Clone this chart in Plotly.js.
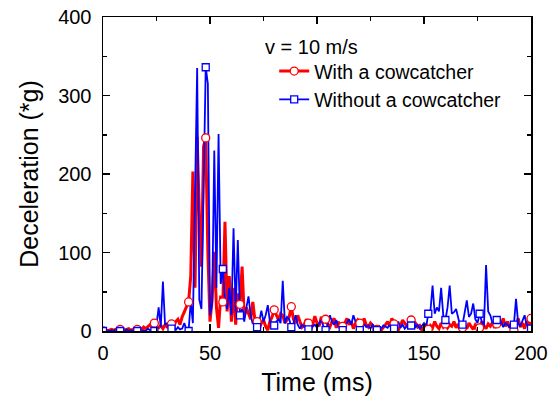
<!DOCTYPE html>
<html><head><meta charset="utf-8">
<script src="https://cdn.plot.ly/plotly-3.0.1.min.js"></script>
<style>html,body{margin:0;padding:0;background:#fff}</style>
</head><body><div id="chart" style="width:549px;height:400px"></div>
<script>
// Time axis (ms), sampled every 1 ms from 0 to 200
const timeMs = Array.from({length: 201}, (_, i) => i);

// Deceleration (*g) with a cowcatcher, t = 0..200 ms
const withCowcatcher = [
0,1,0,1,2,1,2,1,2,3, 1,2,3,1,2,3,2,4,2,5,
3,6,8,5,10,6,4,7,3,8, 5,6,9,5,12,15,8,18,25,30,
37,70,203,55,247,150,82,235,246,100, 12,40,101,30,4,45,37,139,25,70,
12,55,8,48,34,82,18,30,22,15, 37,14,12,3,10,14,6,1,12,18,
27,20,14,22,20,10,14,18,31,15, 10,20,12,5,8,15,10,1,8,19,
10,6,18,12,15,8,5,12,16,4, 12,2,6,10,16,8,12,3,10,14,
10,6,16,8,5,10,7,3,2,5, 1,4,8,12,6,16,9,4,1,8,
14,10,6,12,14,8,10,5,7,1, 5,8,2,7,4,12,6,3,10,5,
9,4,8,6,12,4,9,1,4,8, 3,10,6,2,8,5,4,12,7,3,
9,6,11,4,9,14,8,16,6,12, 4,10,1,8,16,5,10,3,12,6,
16
];

// Deceleration (*g) without a cowcatcher, t = 0..200 ms
const withoutCowcatcher = [
0,0,1,0,1,0,2,0,0,1, 0,2,0,1,0,1,0,2,0,1,
0,3,1,2,0,8,30,5,63,8, 10,10,3,8,1,5,2,3,10,2,
0,38,10,170,335,40,28,180,336,315, 20,35,230,55,251,60,79,40,28,55,
20,131,25,116,20,28,12,30,44,20, 9,15,5,12,26,12,20,33,12,8,
7,12,15,10,64,10,18,15,5,10, 20,8,3,8,5,10,2,12,6,8,
4,10,14,6,1,8,20,12,8,14, 5,10,1,6,10,15,8,20,12,5,
1,3,9,5,7,3,8,4,1,6, 3,7,5,4,8,2,3,6,12,4,
8,3,6,10,7,12,5,8,3,6, 10,5,22,25,58,22,30,25,55,20,
14,30,58,22,24,28,15,5,8,25, 39,18,22,35,15,10,22,12,5,84,
25,20,10,12,14,8,12,5,10,8, 5,12,8,41,10,6,12,20,8,5,
3
];

const markerEvery = 8;
const seriesNames = ['With a cowcatcher', 'Without a cowcatcher'];
const legendTitle = 'v = 10 m/s';
const xTitle = 'Time (ms)';
const yTitle = 'Deceleration (*g)';

const red = '#ff0000', blue = '#0000ff';
const font = 'Liberation Sans, Arial, sans-serif';

function pick(arr){ return arr.filter((_, i) => i % markerEvery === 0); }

const specs = [
  {y: withCowcatcher, name: seriesNames[0], color: red, width: 3, symbol: 'circle', size: 8},
  {y: withoutCowcatcher, name: seriesNames[1], color: blue, width: 1.8, symbol: 'square', size: 7}
];

const traces = [];
specs.forEach((s, k) => {
  traces.push({x: timeMs, y: s.y, mode: 'lines', type: 'scatter', line: {color: s.color, width: s.width},
    showlegend: false, legendgroup: 'g'+k, hoverinfo: 'skip'});
});
specs.forEach((s, k) => {
  traces.push({x: pick(timeMs), y: pick(s.y), mode: 'markers', type: 'scatter',
    marker: {symbol: s.symbol, size: s.size, color: '#ffffff', line: {color: s.color, width: 1.3}},
    showlegend: false, legendgroup: 'g'+k, hoverinfo: 'skip'});
});
specs.forEach((s, k) => {
  traces.push({x: [null], y: [null], mode: 'lines+markers', type: 'scatter', name: s.name,
    line: {color: s.color, width: s.width},
    marker: {symbol: s.symbol, size: s.size, color: '#ffffff', line: {color: s.color, width: 1.3}},
    legendgroup: 'g'+k});
});

const axisCommon = {
  showgrid: false, zeroline: false, showline: true, linecolor: '#000', linewidth: 1.5,
  mirror: 'ticks', ticks: 'inside', ticklen: 7, tickwidth: 1.5, tickcolor: '#000',
  tickfont: {family: font, size: 20, color: '#000'}
};

const layout = {
  width: 549, height: 400,
  margin: {l: 103, r: 18, t: 17, b: 69},
  paper_bgcolor: '#fff', plot_bgcolor: '#fff',
  font: {family: font, color: '#000'},
  xaxis: Object.assign({}, axisCommon, {
    range: [0, 200], tick0: 0, dtick: 50, ticklabelstandoff: 3,
    minor: {dtick: 25, ticks: 'inside', ticklen: 4, tickwidth: 1.5, tickcolor: '#000'},
    title: {text: xTitle, font: {family: font, size: 25, color: '#000'}, standoff: 11}
  }),
  yaxis: Object.assign({}, axisCommon, {
    range: [0, 400], tick0: 0, dtick: 100, ticklabelstandoff: 6,
    minor: {dtick: 50, ticks: 'inside', ticklen: 4, tickwidth: 1.5, tickcolor: '#000'},
    title: {text: yTitle, font: {family: font, size: 25, color: '#000'}, standoff: 12}
  }),
  legend: {
    x: 0.40, y: 0.889, xanchor: 'left', yanchor: 'top',
    bgcolor: 'rgba(0,0,0,0)', borderwidth: 0,
    font: {family: font, size: 19.5, color: '#000'},
    tracegroupgap: 0, traceorder: 'normal'
  },
  annotations: [{
    text: legendTitle, xref: 'paper', yref: 'paper', x: 0.374, y: 0.9045,
    xanchor: 'left', yanchor: 'middle', showarrow: false,
    font: {family: font, size: 20, color: '#000'}
  }],
  showlegend: true
};

Plotly.newPlot('chart', traces, layout, {displayModeBar: false, staticPlot: true});
</script>
</body></html>
